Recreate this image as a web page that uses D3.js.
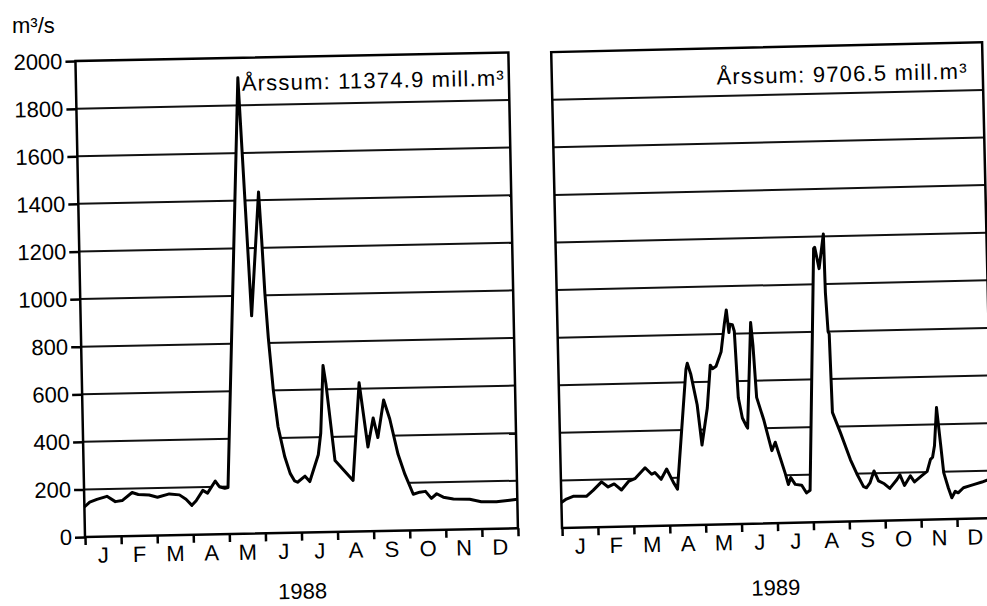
<!DOCTYPE html>
<html>
<head>
<meta charset="utf-8">
<script src="https://cdn.jsdelivr.net/npm/d3@7"></script>
<style>
body { margin: 0; background: #fff; }
svg { display: block; font-family: "Liberation Sans", Arial, Helvetica, sans-serif; }
</style>
</head>
<body>
<div id="chart"></div>
<script>
let months = ["J", "F", "M", "A", "M", "J", "J", "A", "S", "O", "N", "D"];
let yTicks = [0, 200, 400, 600, 800, 1000, 1200, 1400, 1600, 1800, 2000];
let years = ["1988", "1989"];
let sums = ["Årssum: 11374.9 mill.m³", "Årssum: 9706.5 mill.m³"];

// [month position (0 = 1 Jan, 12 = 31 Dec), discharge m3/s]
let flow1988 = [
    [0, 126], [0.15, 146], [0.35, 157], [0.63, 169], [0.86, 146], [1.05, 150], [1.33, 183],
    [1.5, 174], [1.8, 171], [2.03, 161], [2.36, 174], [2.64, 169], [2.82, 150], [2.98, 124],
    [3.1, 143], [3.29, 186], [3.42, 174], [3.64, 224], [3.75, 200], [3.9, 193], [3.99, 196],
    [4.49, 1916], [4.74, 915], [5.0, 1435], [5.06, 1235], [5.12, 1007], [5.19, 821], [5.3, 600],
    [5.41, 447], [5.58, 320], [5.72, 250], [5.84, 218], [5.92, 212], [6.13, 237], [6.26, 214],
    [6.51, 326], [6.59, 417], [6.69, 700], [6.76, 624], [6.97, 300], [7.46, 215], [7.68, 625],
    [7.89, 354], [8.05, 476], [8.17, 393], [8.35, 550], [8.51, 470], [8.72, 321], [8.9, 236],
    [9.12, 152], [9.3, 160], [9.46, 163], [9.62, 133], [9.77, 152], [9.95, 137], [10.23, 129],
    [10.68, 126], [11.0, 115], [11.42, 113], [11.79, 119], [12, 122]
];

let flow1989 = [
    [0, 107], [0.14, 121], [0.33, 132], [0.7, 131], [0.89, 155], [1.13, 190], [1.31, 168],
    [1.48, 180], [1.68, 154], [1.88, 189], [2.06, 200], [2.35, 245], [2.53, 217], [2.62, 224],
    [2.79, 195], [2.95, 238], [3.13, 181], [3.24, 152], [3.55, 655], [3.59, 680], [3.68, 635],
    [3.84, 505], [3.95, 335], [4.12, 490], [4.23, 670], [4.29, 655], [4.39, 665], [4.54, 725],
    [4.65, 845], [4.71, 900], [4.77, 805], [4.8, 840], [4.87, 838], [4.92, 810], [4.99, 530],
    [5.09, 445], [5.2, 410], [5.23, 402], [5.38, 845], [5.43, 750], [5.5, 530], [5.69, 432],
    [5.89, 305], [5.99, 340], [6.25, 207], [6.33, 161], [6.4, 190], [6.52, 161], [6.7, 157],
    [6.83, 124], [6.93, 135], [7.18, 1150], [7.21, 1155], [7.32, 1065], [7.46, 1210], [7.48, 965],
    [7.53, 800], [7.56, 790], [7.6, 460], [7.81, 374], [8.07, 260], [8.24, 200], [8.42, 145],
    [8.5, 140], [8.6, 160], [8.72, 210], [8.84, 168], [9.0, 155], [9.15, 135], [9.35, 171],
    [9.44, 191], [9.56, 146], [9.73, 186], [9.84, 160], [10.05, 186], [10.2, 203], [10.3, 253],
    [10.36, 262], [10.42, 310], [10.5, 470], [10.59, 317], [10.66, 196], [10.78, 131], [10.87, 90],
    [10.97, 117], [11.05, 110], [11.2, 131], [11.39, 139], [11.55, 146], [11.72, 153], [11.86, 160],
    [12, 162]
];

let width = 987, height = 606, H = 476;

let svg = d3.select("#chart").append("svg")
    .attr("width", width)
    .attr("height", height);

svg.append("text")
    .attr("x", 12)
    .attr("y", 33)
    .attr("font-size", 22)
    .text("m³/s");

function drawPanel(opts) {
    let w = opts.w;
    let g = svg.append("g")
        .attr("transform", "rotate(" + opts.rot + "," + opts.x0 + "," + opts.y0 + ") translate(" + opts.x0 + "," + (opts.y0 - H) + ")");

    let x = d3.scaleLinear().domain([0, 12]).range([0, w]);
    let y = d3.scaleLinear().domain([0, 2000]).range([H, 0]);

    // gridlines
    g.append("g")
        .selectAll("line")
        .data(yTicks.filter(function (d) { return d > 0 && d < 2000; }))
        .enter().append("line")
        .attr("x1", 0).attr("x2", w)
        .attr("y1", function (d) { return y(d); })
        .attr("y2", function (d) { return y(d); })
        .attr("stroke", "#111")
        .attr("stroke-width", 2);

    // white area under the curve hides the gridlines
    let area = d3.area()
        .x(function (d) { return x(d[0]); })
        .y0(y(0))
        .y1(function (d) { return y(d[1]); });
    g.append("path")
        .datum(opts.data)
        .attr("d", area)
        .attr("fill", "#fff");

    let line = d3.line()
        .x(function (d) { return x(d[0]); })
        .y(function (d) { return y(d[1]); });
    g.append("path")
        .datum(opts.data)
        .attr("d", line)
        .attr("fill", "none")
        .attr("stroke", "#000")
        .attr("stroke-width", 3)
        .attr("stroke-linejoin", "round");

    // frame
    g.append("rect")
        .attr("x", 0).attr("y", 0)
        .attr("width", w).attr("height", H)
        .attr("fill", "none")
        .attr("stroke", "#000")
        .attr("stroke-width", 2.5);

    // month ticks
    let xAxis = g.append("g")
        .attr("transform", "translate(0," + H + ")")
        .call(d3.axisBottom(x).tickValues(d3.range(13)).tickSize(8).tickFormat(""));
    xAxis.select(".domain").remove();
    xAxis.selectAll("line").attr("stroke", "#000").attr("stroke-width", 2.5);

    g.append("g")
        .selectAll("text")
        .data(months)
        .enter().append("text")
        .attr("x", function (d, i) { return x(i + 0.5); })
        .attr("y", H + 26)
        .attr("text-anchor", "middle")
        .attr("font-size", 22)
        .text(function (d) { return d; });

    if (opts.yLabels) {
        let yAxis = g.append("g")
            .call(d3.axisLeft(y).tickValues(yTicks).tickSize(10).tickPadding(3).tickFormat(d3.format("d")));
        yAxis.select(".domain").remove();
        yAxis.selectAll("line").attr("stroke", "#000").attr("stroke-width", 2.5);
        yAxis.selectAll("text")
            .attr("font-size", 22)
            .attr("font-family", "Liberation Sans, Arial, sans-serif")
            .attr("fill", "#000");
    }

    g.append("text")
        .attr("x", opts.sumX)
        .attr("y", opts.sumY)
        .attr("text-anchor", "end")
        .attr("font-size", 22)
        .attr("letter-spacing", 1.2)
        .text(opts.sum);

    g.append("text")
        .attr("x", w / 2 + opts.yearDx)
        .attr("y", H + opts.yearDy)
        .attr("text-anchor", "middle")
        .attr("font-size", 22)
        .text(opts.year);
}

drawPanel({ x0: 85, y0: 537, w: 433, rot: -1.15, data: flow1988, yLabels: true,
    sum: sums[0], sumX: 429, sumY: 33, year: years[0], yearDx: 0, yearDy: 66 });
drawPanel({ x0: 562, y0: 528, w: 431, rot: -1.3, data: flow1989, yLabels: false,
    sum: sums[1], sumX: 416, sumY: 36, year: years[1], yearDx: -3, yearDy: 72 });
</script>
</body>
</html>
